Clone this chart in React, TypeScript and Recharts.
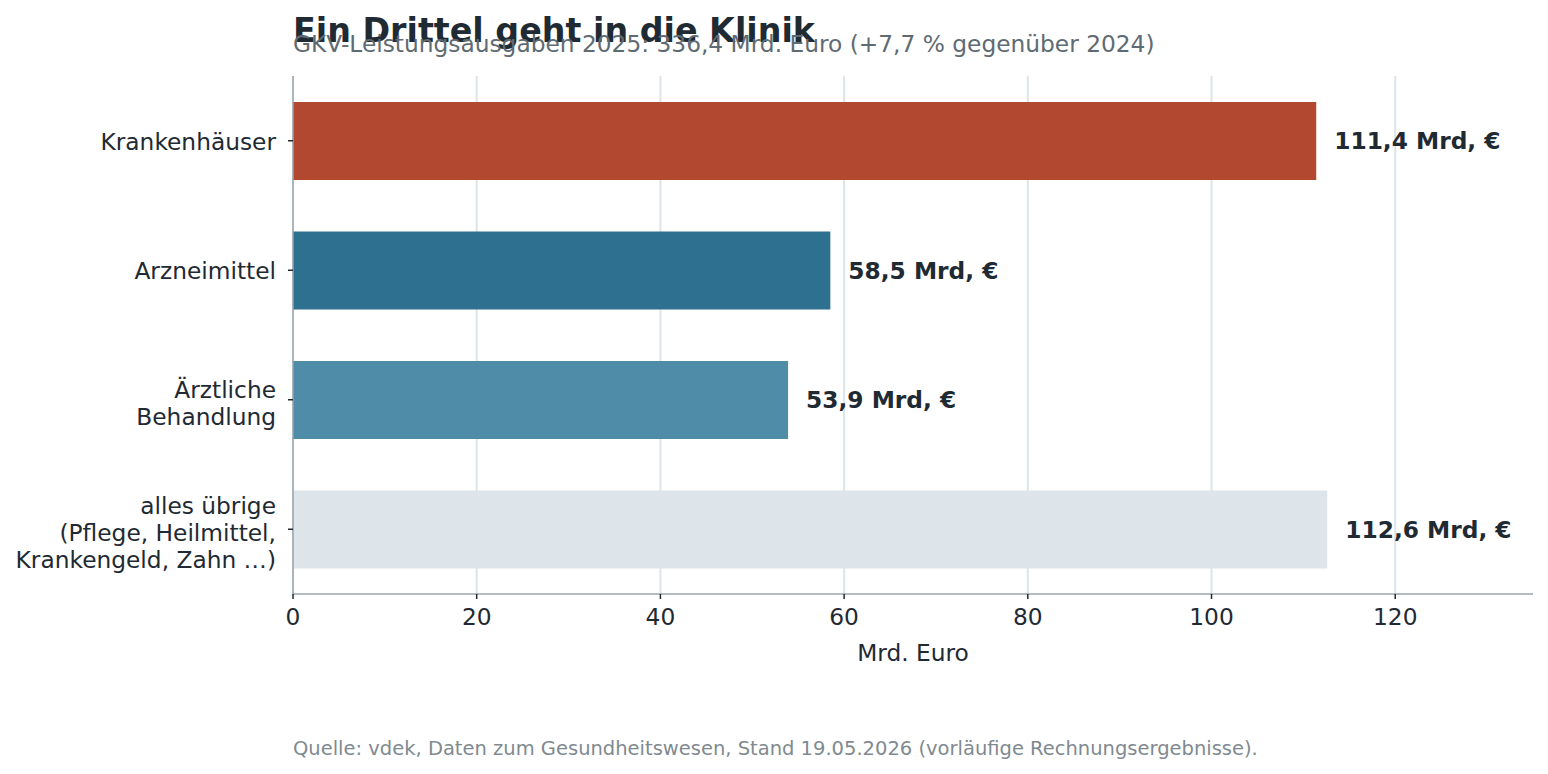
import React from "react";
import { BarChart, Bar, XAxis, YAxis, CartesianGrid, Cell, LabelList, Label } from "recharts";

const categories = ["Krankenhäuser", "Arzneimittel", "Ärztliche\nBehandlung", "alles übrige\n(Pflege, Heilmittel,\nKrankengeld, Zahn …)"];
const values = [111.4, 58.5, 53.9, 112.6];
const barColors = ["#b34830", "#2e7090", "#4f8ca8", "#dde4ea"];
const xTicks = [0, 20, 40, 60, 80, 100, 120];

const data = categories.map((name, i) => ({ name, value: values[i] }));

const FONT = "'DejaVu Sans', sans-serif";
const DARK = "#1f2a33";
const FS = 23.3;

const fmt = (v: number) => v.toFixed(1).replace(".", ",") + " Mrd, €";

function CatTick(props: any) {
  const { x, y, payload } = props;
  const lines = String(payload.value).split("\n");
  const lh = 26.8;
  const shift = lines.length > 1 ? 3 : 0;
  const start = y - ((lines.length - 1) * lh) / 2 + shift;
  return (
    <text x={x - 10} y={start} textAnchor="end" fill={DARK} fontSize={FS} fontFamily={FONT} dominantBaseline="central">
      {lines.map((l, i) => (
        <tspan key={i} x={x - 10} y={start + i * lh}>{l}</tspan>
      ))}
    </text>
  );
}

export default function App() {
  return (
    <div style={{ position: "absolute", left: 0, top: 0, width: 1548, height: 774, background: "#fff", fontFamily: FONT }}>
      <BarChart
        width={1548}
        height={700}
        data={data}
        layout="vertical"
        margin={{ top: 76, right: 15, bottom: 0, left: 0 }}
        barSize={78}
      >
        <CartesianGrid horizontal={false} stroke="#dde5e8" strokeWidth={2} syncWithTicks />
        <XAxis
          type="number"
          domain={[0, 135]}
          ticks={xTicks}
          allowDataOverflow
          height={106}
          stroke="#9aa5aa"
          strokeWidth={1.5}
          tickLine={{ stroke: DARK, strokeWidth: 1.5 }}
          tickSize={5}
          tickMargin={9}
          tick={{ fill: DARK, fontSize: FS, fontFamily: FONT }}
        >
          <Label value="Mrd. Euro" position="insideTop" offset={50} fill={DARK} fontSize={FS} fontFamily={FONT} />
        </XAxis>
        <YAxis
          type="category"
          dataKey="name"
          width={293}
          stroke="#9aa5aa"
          strokeWidth={1.5}
          tickLine={{ stroke: DARK, strokeWidth: 1.5 }}
          tickSize={5}
          tick={<CatTick />}
          interval={0}
        />
        <Bar dataKey="value" isAnimationActive={false}>
          {data.map((d, i) => (
            <Cell key={d.name} fill={barColors[i]} />
          ))}
          <LabelList
            dataKey="value"
            position="right"
            offset={18}
            formatter={(v: any) => fmt(Number(v))}
            fill={DARK}
            fontSize={FS}
            fontWeight="bold"
            fontFamily={FONT}
          />
        </Bar>
      </BarChart>
      <div style={{ position: "absolute", left: 293, top: 11, fontSize: 33.3, fontWeight: "bold", color: DARK, whiteSpace: "nowrap", lineHeight: "40px" }}>
        Ein Drittel geht in die Klinik
      </div>
      <div style={{ position: "absolute", left: 293, top: 30, fontSize: 23.3, color: "#5f6b73", whiteSpace: "nowrap", lineHeight: "28px" }}>
        GKV-Leistungsausgaben 2025: 336,4 Mrd. Euro (+7,7 % gegenüber 2024)
      </div>
      <div style={{ position: "absolute", left: 293, top: 737, fontSize: 19.5, color: "#7f8a90", whiteSpace: "nowrap", lineHeight: "24px" }}>
        Quelle: vdek, Daten zum Gesundheitswesen, Stand 19.05.2026 (vorläufige Rechnungsergebnisse).
      </div>
    </div>
  );
}
